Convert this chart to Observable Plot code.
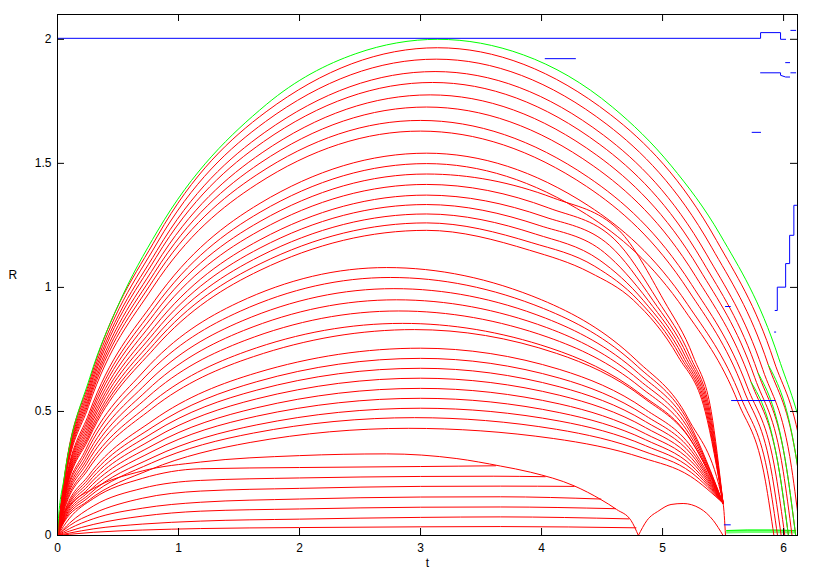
<!DOCTYPE html>
<html><head><meta charset="utf-8">
<script src="https://cdn.jsdelivr.net/npm/d3@7"></script>
<script src="https://cdn.jsdelivr.net/npm/@observablehq/plot@0.6"></script>
<style>
body{margin:0;background:#fff;}
#chart svg{display:block}
</style></head><body><div id="chart"></div>
<script>
// Tick values
const xTicks = [0, 1, 2, 3, 4, 5, 6];
const yTicks = [0, 0.5, 1, 1.5, 2];

// Green envelope (t, R)
const envelope = [[0,0],[0.0045,0.045],[0.0558,0.235],[0.268,0.638],[0.5025,0.929],[0.826,1.227],[1.725,1.737],[2.465,1.942],[3.142,2.0],[3.851,1.937],[4.588,1.726],[5.072,1.49],[5.478,1.211],[5.959,0.716],[6.206,0.291],[6.265,0.115],[6.283,0]];

// Upper family of red curves
const topCurves = [
 [[0,0],[0.0558,0.232],[0.268,0.627],[0.826,1.207],[1.724,1.708],[3.14,1.966],[4.568,1.697],[5.446,1.189],[5.92,0.704],[6.164,0.287],[6.24,0]],
 [[0,0],[0.0556,0.227],[0.267,0.612],[0.823,1.179],[1.718,1.668],[3.13,1.92],[4.54,1.657],[5.405,1.162],[5.874,0.687],[6.115,0.28],[6.19,0]],
 [[0,0],[0.0554,0.221],[0.266,0.597],[0.821,1.148],[1.713,1.625],[3.12,1.87],[4.511,1.614],[5.366,1.131],[5.828,0.669],[6.066,0.273],[6.14,0]],
 [[0,0],[0.0551,0.215],[0.264,0.582],[0.815,1.121],[1.702,1.587],[3.1,1.826],[4.482,1.576],[5.331,1.105],[5.79,0.654],[6.026,0.267],[6.1,0]],
 [[0,0],[0.0547,0.21],[0.263,0.567],[0.81,1.09],[1.691,1.543],[3.08,1.776],[4.456,1.533],[5.304,1.074],[5.762,0.636],[5.997,0.259],[6.07,0]],
 [[0,0],[0.0542,0.204],[0.26,0.551],[0.802,1.06],[1.674,1.501],[3.05,1.727],[4.427,1.49],[5.273,1.045],[5.732,0.618],[5.967,0.252],[6.04,0]],
 [[0,0],[0.0533,0.197],[0.256,0.534],[0.789,1.027],[1.647,1.454],[3.0,1.673],[4.386,1.444],[5.239,1.012],[5.7,0.599],[5.937,0.244],[6.01,0]],
 [[0,0],[0.0533,0.192],[0.256,0.52],[0.789,1.001],[1.647,1.416],[3.0,1.63],[4.372,1.407],[5.216,0.986],[5.673,0.584],[5.907,0.238],[5.98,0]],
 [[0,0],[0.0542,0.182],[0.26,0.492],[0.802,0.946],[1.674,1.339],[3.05,1.541],[4.385,1.33],[5.206,0.932],[5.651,0.552],[5.879,0.225],[5.95,0]],
 [[0,0],[0.0542,0.177],[0.26,0.478],[0.802,0.92],[1.674,1.303],[3.05,1.499],[4.372,1.294],[5.184,0.907],[5.624,0.537],[5.85,0.219],[5.92,0]],
 [[0,0],[0.0542,0.172],[0.26,0.465],[0.802,0.895],[1.674,1.266],[3.05,1.457],[4.1,1.36],[4.64,1.23],[5.01,0.948],[5.255,0.72],[5.402,0.5],[5.5,0.13]],
 [[0,0],[0.0542,0.167],[0.26,0.451],[0.802,0.869],[1.674,1.23],[3.05,1.415],[4.06,1.32],[4.6,1.195],[4.96,0.948],[5.23,0.72],[5.392,0.5],[5.5,0.13]],
 [[0,0],[0.0542,0.162],[0.26,0.438],[0.802,0.842],[1.674,1.192],[3.05,1.372],[4.02,1.285],[4.56,1.17],[4.92,0.948],[5.21,0.72],[5.384,0.5],[5.5,0.13]],
 [[0,0],[0.0542,0.157],[0.26,0.426],[0.802,0.819],[1.674,1.159],[3.05,1.334],[3.98,1.25],[4.52,1.14],[4.88,0.948],[5.19,0.72],[5.376,0.5],[5.5,0.13]],
 [[0,0],[0.0542,0.153],[0.26,0.413],[0.802,0.796],[1.674,1.126],[3.05,1.296],[3.95,1.215],[4.48,1.11],[4.84,0.948],[5.17,0.72],[5.368,0.5],[5.5,0.13]],
 [[0,0],[0.0542,0.149],[0.26,0.402],[0.802,0.774],[1.674,1.095],[3.05,1.26],[3.92,1.18],[4.44,1.085],[4.8,0.948],[5.15,0.72],[5.36,0.5],[5.5,0.13]],
 [[0,0],[0.0542,0.145],[0.26,0.392],[0.802,0.755],[1.674,1.069],[3.05,1.23],[3.9,1.15],[4.4,1.06],[4.76,0.948],[5.13,0.72],[5.352,0.5],[5.5,0.13]]
];

// Middle family of red curves (all run into the point near t=5.5)
const midCurves = [
 [[0,0],[0.0483,0.127],[0.232,0.345],[0.715,0.663],[1.493,0.939],[2.72,1.08],[4.0,0.95],[4.787,0.705],[5.213,0.47],[5.5,0.13],[5.52,0]],
 [[0,0],[0.0488,0.123],[0.2346,0.332],[0.723,0.639],[1.51,0.904],[2.75,1.04],[4.016,0.915],[4.795,0.681],[5.216,0.456],[5.5,0.13]],
 [[0,0],[0.0494,0.117],[0.237,0.317],[0.731,0.611],[1.526,0.865],[2.78,0.995],[4.033,0.876],[4.803,0.653],[5.219,0.44],[5.5,0.13]],
 [[0,0],[0.0497,0.112],[0.239,0.303],[0.736,0.583],[1.537,0.826],[2.8,0.95],[4.043,0.838],[4.808,0.626],[5.221,0.424],[5.5,0.13]],
 [[0,0],[0.0501,0.107],[0.2405,0.289],[0.742,0.556],[1.548,0.786],[2.82,0.905],[4.054,0.799],[4.813,0.599],[5.223,0.407],[5.5,0.13]],
 [[0,0],[0.0506,0.101],[0.243,0.273],[0.75,0.525],[1.565,0.743],[2.85,0.855],[4.07,0.756],[4.821,0.569],[5.227,0.39],[5.5,0.13]],
 [[0,0],[0.0524,0.098],[0.2516,0.265],[0.776,0.51],[1.62,0.721],[2.95,0.83],[4.124,0.734],[4.846,0.554],[5.237,0.381],[5.5,0.13]],
 [[0,0],[0.0533,0.089],[0.256,0.241],[0.789,0.464],[1.647,0.656],[3.0,0.755],[4.151,0.669],[4.859,0.508],[5.242,0.354],[5.5,0.13]],
 [[0,0],[0.0533,0.084],[0.256,0.228],[0.789,0.438],[1.647,0.62],[3.0,0.714],[4.151,0.634],[4.859,0.483],[5.242,0.339],[5.5,0.13]],
 [[0,0],[0.0533,0.08],[0.256,0.215],[0.789,0.414],[1.647,0.586],[3.0,0.674],[4.151,0.599],[4.859,0.459],[5.242,0.325],[5.5,0.13]],
 [[0,0],[0.0533,0.075],[0.256,0.202],[0.789,0.389],[1.647,0.551],[3.0,0.634],[4.151,0.565],[4.859,0.435],[5.242,0.31],[5.5,0.13]],
 [[0,0],[0.0533,0.07],[0.256,0.189],[0.789,0.364],[1.647,0.515],[3.0,0.593],[4.151,0.53],[4.859,0.41],[5.242,0.296],[5.5,0.13]],
 [[0,0],[0.0533,0.065],[0.256,0.176],[0.789,0.34],[1.647,0.481],[3.0,0.553],[4.151,0.495],[4.859,0.386],[5.242,0.281],[5.5,0.13]],
 [[0,0],[0.0533,0.061],[0.256,0.164],[0.789,0.315],[1.647,0.446],[3.0,0.513],[4.151,0.461],[4.859,0.362],[5.242,0.267],[5.5,0.13]],
 [[0,0],[0.0524,0.056],[0.2516,0.152],[0.776,0.292],[1.62,0.413],[2.95,0.475],[4.124,0.428],[4.846,0.339],[5.237,0.254],[5.5,0.13]],
 [[0,0],[0.0515,0.051],[0.247,0.138],[0.763,0.265],[1.592,0.375],[2.9,0.432],[4.097,0.391],[4.834,0.313],[5.232,0.238],[5.5,0.13]]
];

// Lower family of red curves
const lowCurves = [
 [[0,0],[0.02,0.06],[0.1,0.12],[0.3,0.19],[0.7,0.26],[1.18,0.296],[2.0,0.322],[2.72,0.329],[3.3,0.31],[3.66,0.28],[3.91,0.255],[4.27,0.2],[4.49,0.145],[4.62,0.105],[4.74,0.06],[4.8,0]],
 [[0,0],[0.1,0.07],[0.3,0.15],[0.7,0.23],[1.18,0.269],[2.0,0.274],[3.0,0.278],[3.62,0.281]],
 [[0,0],[0.1,0.05],[0.3,0.12],[0.7,0.19],[1.18,0.222],[2.0,0.232],[3.0,0.238],[3.6,0.239],[4.03,0.237]],
 [[0,0],[0.1,0.04],[0.3,0.09],[0.7,0.15],[1.18,0.179],[2.0,0.19],[3.0,0.198],[3.66,0.199],[4.27,0.198]],
 [[0,0],[0.1,0.028],[0.3,0.068],[0.7,0.11],[1.18,0.134],[2.0,0.147],[3.0,0.155],[3.66,0.156],[4.49,0.147]],
 [[0,0],[0.1,0.018],[0.3,0.045],[0.7,0.078],[1.18,0.098],[2.0,0.107],[3.0,0.114],[3.66,0.115],[4.61,0.108]],
 [[0,0],[0.1,0.01],[0.3,0.027],[0.7,0.046],[1.18,0.058],[2.0,0.066],[3.0,0.073],[3.66,0.075],[4.72,0.067]],
 [[0,0],[0.1,0.005],[0.3,0.013],[0.7,0.022],[1.18,0.028],[2.0,0.032],[3.0,0.035],[3.66,0.036],[4.78,0.031]]
];

// Small arch between the two cusps
const smallArc = [[4.8,0],[4.87,0.06],[4.97,0.1],[5.07,0.125],[5.17,0.129],[5.31,0.109],[5.42,0.06],[5.5,0]];

// Green-coloured tails of some upper curves
const greenTails = [
 [[5.874,0.687],[6.115,0.28],[6.19,0]],
 [[5.79,0.654],[6.026,0.267],[6.1,0]],
 [[5.732,0.618],[5.967,0.252],[6.04,0]]
];

// Green band along the bottom
const greenBandT = [5.53, 5.7, 5.9, 6.1];
const greenBandLo = [0.006, 0.008, 0.008, 0.006];
const greenBandHi = [0.02, 0.022, 0.022, 0.02];

// Blue segments
const blueSegs = [
 [[0,2.004],[5.81,2.004],[5.81,2.027],[5.975,2.027],[5.975,2.0],[6.017,2.0]],
 [[6.06,2.036],[6.1,2.036]],
 [[4.03,1.922],[4.28,1.922]],
 [[5.81,1.865],[5.975,1.865],[5.975,1.855],[6.017,1.848],[6.05,1.848]],
 [[6.06,1.865],[6.1,1.865]],
 [[6.017,1.906],[6.05,1.906]],
 [[5.74,1.625],[5.81,1.625]],
 [[5.93,0.907],[5.948,0.907],[5.948,1.001],[6.017,1.001],[6.017,1.096],[6.05,1.096],[6.05,1.21],[6.085,1.21],[6.085,1.331],[6.107,1.331]],
 [[5.52,0.923],[5.56,0.923]],
 [[5.57,0.544],[5.93,0.544]],
 [[5.51,0.043],[5.56,0.043]],
 [[5.925,0.82],[5.935,0.82]]
];

// reshape into rows for Plot
function rows(curves, name) {
  return curves.flatMap((c, i) => c.map(([t, R]) => ({id: name + i, t, R})));
}
const redRows = [...rows(topCurves, "top"), ...rows(midCurves, "mid"), ...rows(lowCurves, "low"), ...rows([smallArc], "arc")];
const greenRows = [...rows([envelope], "env"), ...rows(greenTails, "tail")];
const blueRows = rows(blueSegs, "blue");
const bandRows = greenBandT.map((t, i) => ({t, lo: greenBandLo[i], hi: greenBandHi[i]}));

const chart = Plot.plot({
  width: 817,
  height: 572,
  marginLeft: 57,
  marginRight: 20,
  marginTop: 14,
  marginBottom: 37,
  style: {fontFamily: "'Liberation Sans', Arial, sans-serif", fontSize: "12px", background: "#fff", color: "#000"},
  x: {domain: [0, 6.115], label: null},
  y: {domain: [0, 2.1], label: null},
  marks: [
    Plot.areaY(bandRows, {x: "t", y1: "lo", y2: "hi", fill: "#00ff00", fillOpacity: 0.55, clip: true}),
    Plot.line(bandRows, {x: "t", y: "hi", stroke: "#00ff00", strokeWidth: 1, clip: true}),
    Plot.line(redRows, {x: "t", y: "R", z: "id", stroke: "#ff0000", strokeWidth: 1, curve: "monotone-x", clip: true}),
    Plot.line(greenRows, {x: "t", y: "R", z: "id", stroke: "#00ff00", strokeWidth: 1, curve: "monotone-x", clip: true}),
    Plot.line(blueRows, {x: "t", y: "R", z: "id", stroke: "#0000ff", strokeWidth: 1, clip: true}),
    Plot.frame({stroke: "#000"}),
    Plot.tickX(xTicks, {x: d => d, insetTop: 514, stroke: "#000"}),
    Plot.tickX(xTicks, {x: d => d, insetBottom: 514, stroke: "#000"}),
    Plot.tickY(yTicks, {y: d => d, insetRight: 733, stroke: "#000"}),
    Plot.tickY(yTicks, {y: d => d, insetLeft: 733, stroke: "#000"}),
    Plot.axisX(xTicks, {tickSize: 0, tickPadding: 8, tickFormat: d => String(d), label: null}),
    Plot.axisY(yTicks, {tickSize: 0, tickPadding: 6, tickFormat: d => String(d), label: null}),
    Plot.text(["t"], {frameAnchor: "bottom", dy: 31, text: d => d, fontSize: 12}),
    Plot.text(["R"], {frameAnchor: "left", dx: -49, text: d => d, fontSize: 12})
  ]
});
document.getElementById("chart").appendChild(chart);
</script>
</body></html>
